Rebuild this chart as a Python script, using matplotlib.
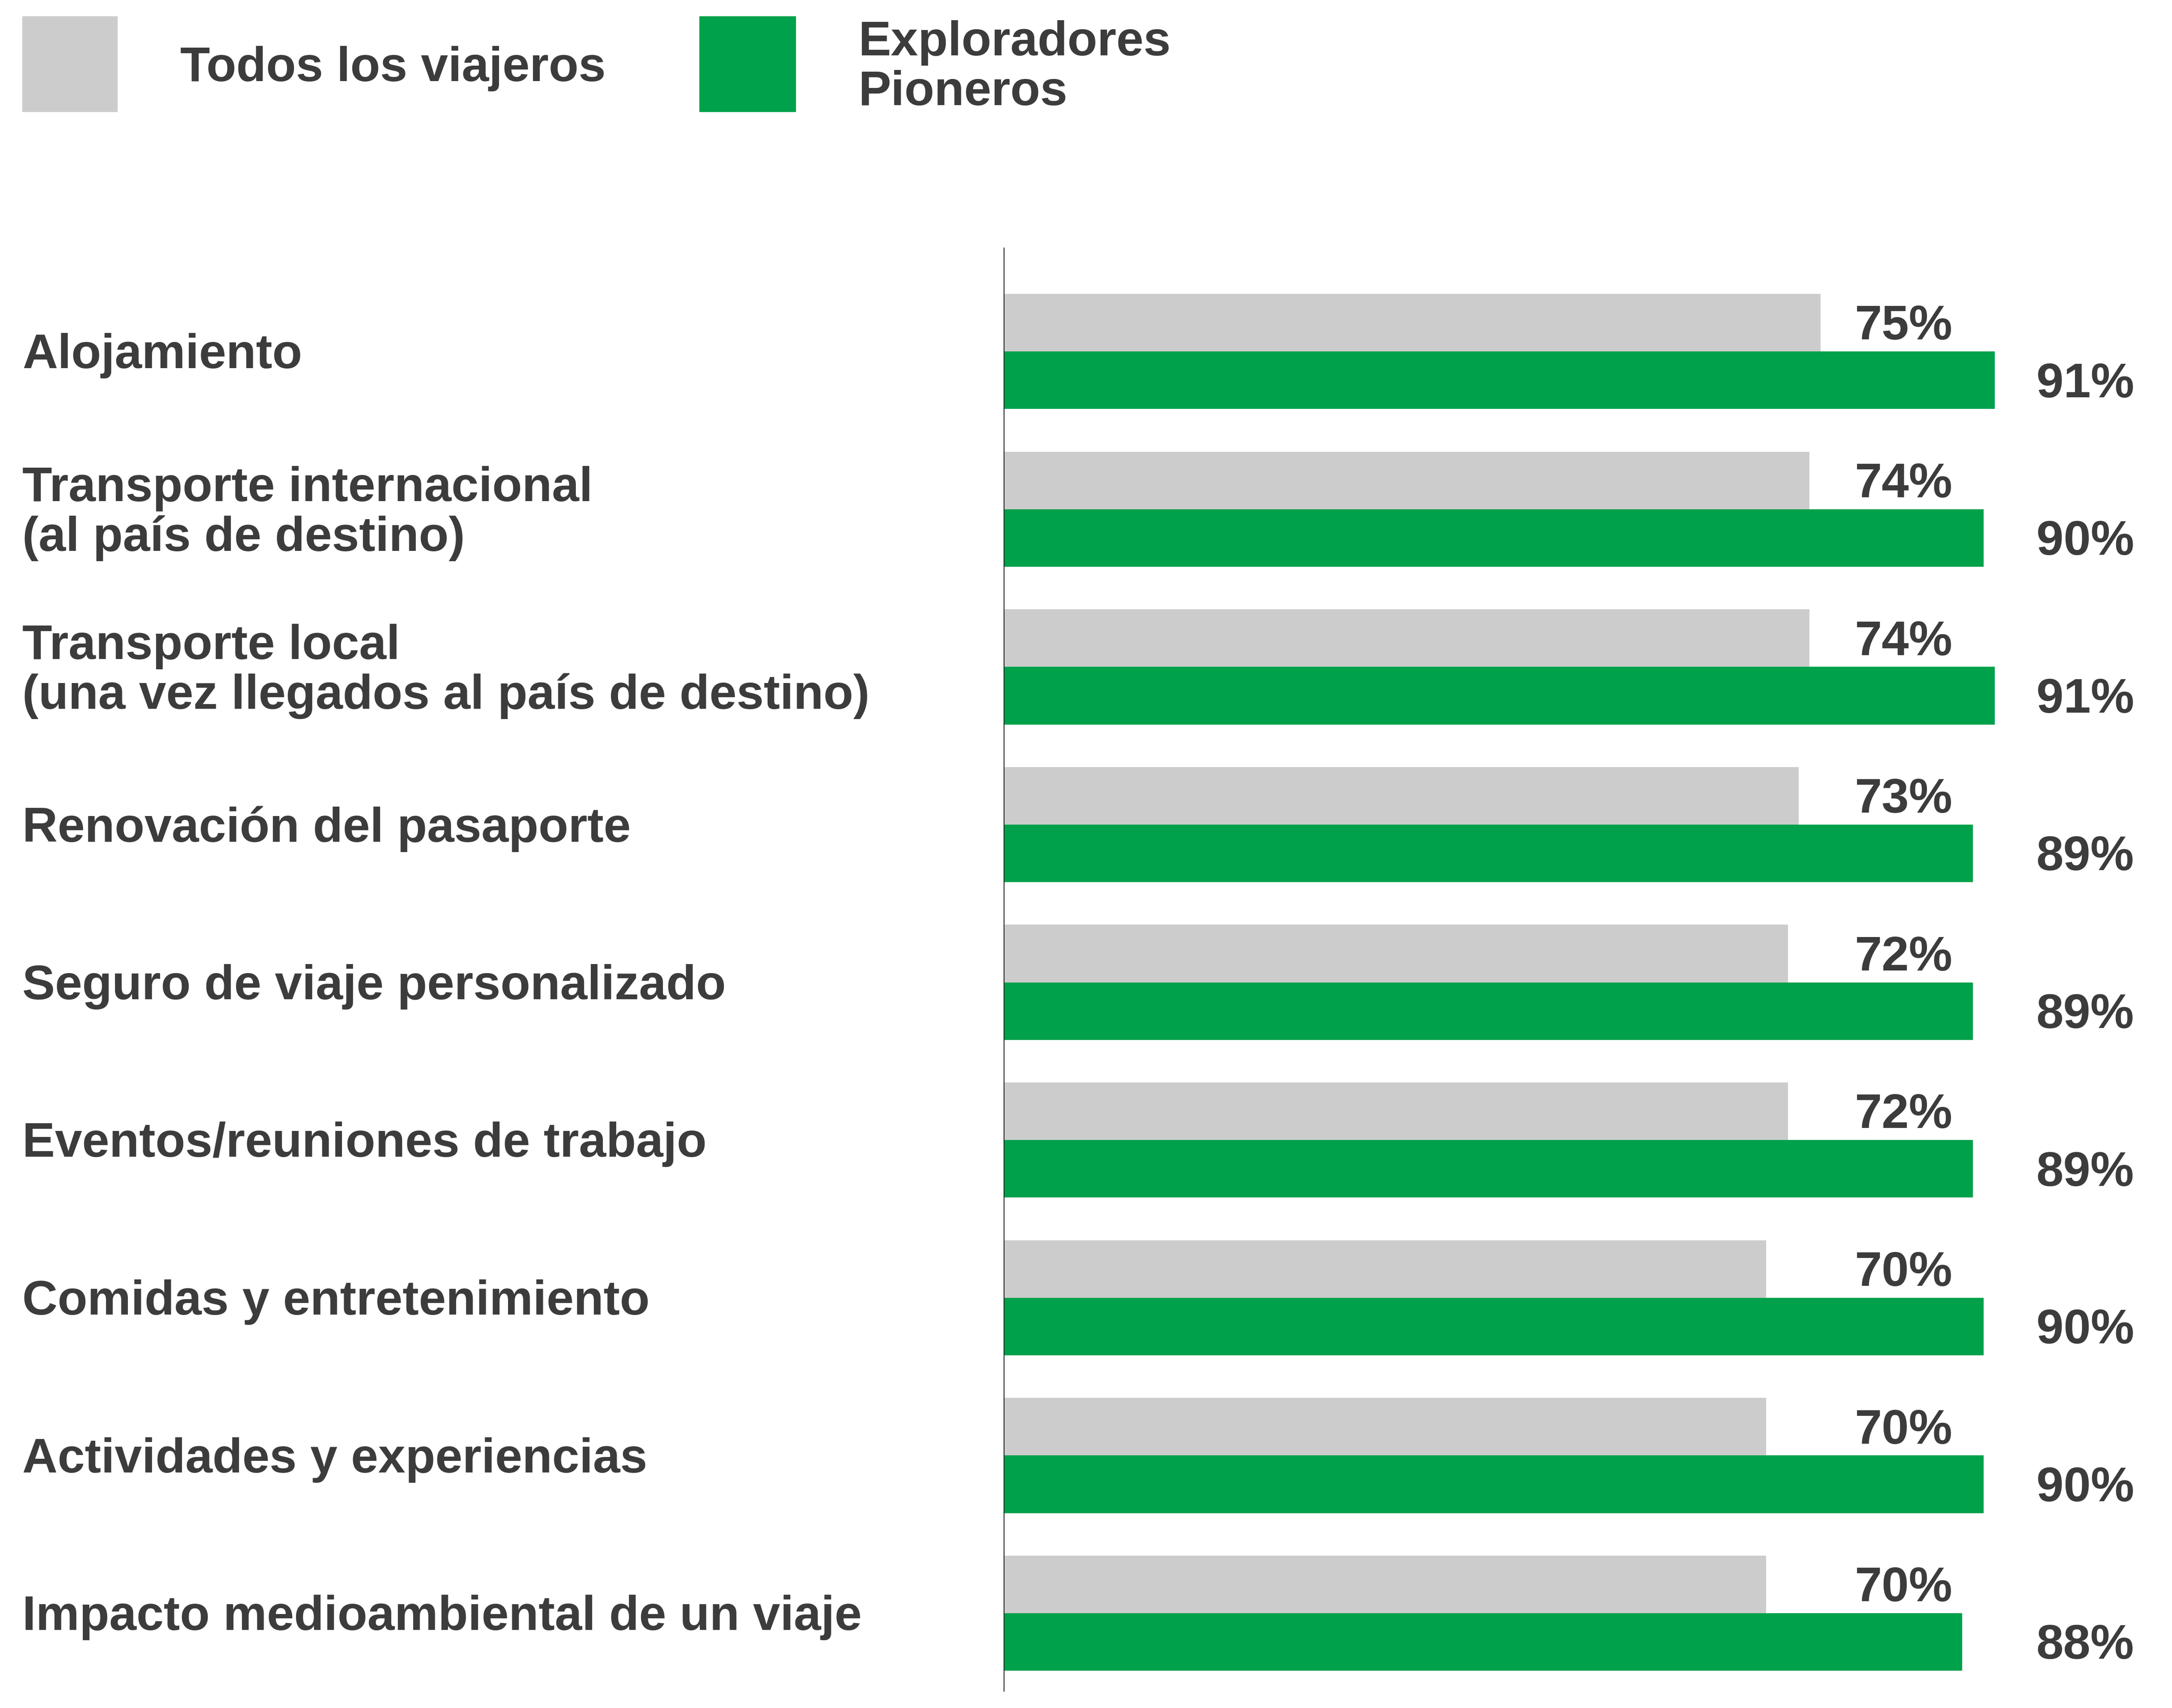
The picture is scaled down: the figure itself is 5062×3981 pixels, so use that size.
import matplotlib
matplotlib.use('Agg')
import matplotlib.pyplot as plt
from matplotlib.patches import Rectangle
from matplotlib.transforms import blended_transform_factory
import numpy as np

# Chart data
categories = [
    'Alojamiento',
    'Transporte internacional\n(al país de destino)',
    'Transporte local\n(una vez llegados al país de destino)',
    'Renovación del pasaporte',
    'Seguro de viaje personalizado',
    'Eventos/reuniones de trabajo',
    'Comidas y entretenimiento',
    'Actividades y experiencias',
    'Impacto medioambiental de un viaje',
]
todos = [75, 74, 74, 73, 72, 72, 70, 70, 70]
pioneros = [91, 90, 91, 89, 89, 89, 90, 90, 88]
series_names = ['Todos los viajeros', 'Exploradores\nPioneros']

GRAY = '#cccccc'
GREEN = '#00a14b'
TEXT = '#3c3c3c'

plt.rcParams['font.family'] = ['Liberation Sans', 'DejaVu Sans']
plt.rcParams['font.weight'] = 'bold'

W, H = 5062, 3981
fig = plt.figure(figsize=(W / 100, H / 100), dpi=100)

# axes placed in pixel terms of the reference
ax_left, ax_top, ax_bottom = 2340, 578, 3942
ax = fig.add_axes([ax_left / W, 1 - ax_bottom / H, 1 - ax_left / W, (ax_bottom - ax_top) / H])

y = np.arange(len(categories))
h = 0.365
ax.barh(y - h / 2, todos, height=h, color=GRAY)
ax.barh(y + h / 2, pioneros, height=h, color=GREEN)

ax.set_xlim(0, (W - ax_left) / 25.37)
ax.set_ylim(8.495, -0.656)

for s in ['top', 'right', 'bottom']:
    ax.spines[s].set_visible(False)
ax.spines['left'].set_linewidth(1.5)
ax.spines['left'].set_color('#222222')
ax.set_xticks([])
ax.set_yticks([])

fs = 82
ls = 1.11
dy = 0.028  # small downward nudge of text, in category units
lab_tr = blended_transform_factory(fig.transFigure, ax.transData)
for i in range(len(categories)):
    ax.text(87.1, i - h / 2 + dy, f'{todos[i]}%', ha='right', va='center',
            fontsize=fs, color=TEXT, fontweight='bold')
    ax.text(103.8, i + h / 2 + dy, f'{pioneros[i]}%', ha='right', va='center',
            fontsize=fs, color=TEXT, fontweight='bold')
    ax.text(52 / W, i + dy, categories[i], transform=lab_tr,
            ha='left', va='center', fontsize=fs, color=TEXT, fontweight='bold', linespacing=ls)

# legend
fig.patches.append(Rectangle((52 / W, 1 - 260 / H), 221 / W, 222 / H, transform=fig.transFigure,
                             color=GRAY, figure=fig))
fig.patches.append(Rectangle((1630 / W, 1 - 260 / H), 224 / W, 222 / H, transform=fig.transFigure,
                             color=GREEN, figure=fig))
fig.text(420 / W, 1 - 160 / H, series_names[0], ha='left', va='center', fontsize=fs,
         color=TEXT, fontweight='bold')
fig.text(2000 / W, 1 - 158 / H, series_names[1], ha='left', va='center', fontsize=fs,
         color=TEXT, fontweight='bold', linespacing=ls)

fig.savefig('out.png', dpi=100, facecolor='white')
